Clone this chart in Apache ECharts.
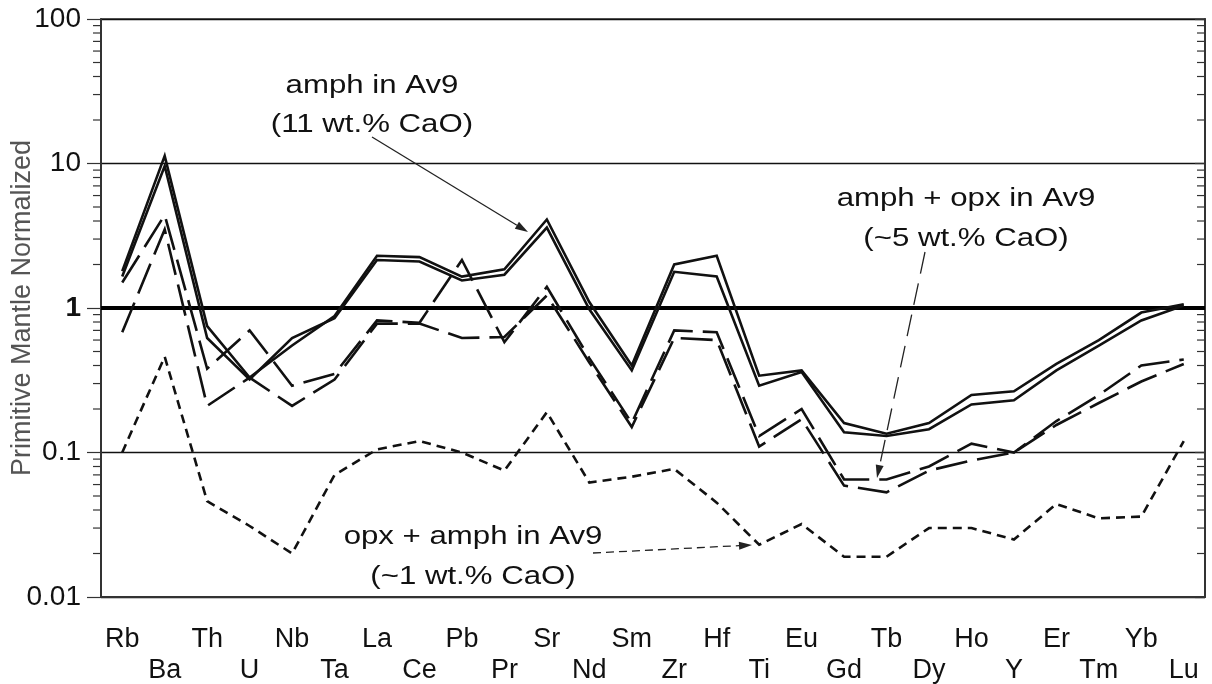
<!DOCTYPE html>
<html>
<head>
<meta charset="utf-8">
<script src="https://cdn.jsdelivr.net/npm/echarts@6/dist/echarts.min.js"></script>
<style>
html,body{margin:0;padding:0;background:#fff;}
#chart{width:1212px;height:684px;}
</style>
</head>
<body>
<div id="chart"></div>
<script>
// ---- data ----
const categories = ['Rb','Ba','Th','U','Nb','Ta','La','Ce','Pb','Pr','Sr','Nd','Sm','Zr','Hf','Ti','Eu','Gd','Tb','Dy','Ho','Y','Er','Tm','Yb','Lu'];
// amph in Av9 (11 wt.% CaO) - two solid lines
const amphUpper = [1.8, 11.3, 0.75, 0.33, 0.55, 0.88, 2.3, 2.25, 1.65, 1.85, 4.1, 1.1, 0.4, 2.0, 2.3, 0.34, 0.37, 0.16, 0.135, 0.16, 0.25, 0.265, 0.41, 0.6, 0.93, 1.06];
const amphLower = [1.65, 9.6, 0.62, 0.32, 0.62, 0.85, 2.15, 2.1, 1.55, 1.7, 3.6, 0.98, 0.37, 1.78, 1.65, 0.29, 0.36, 0.138, 0.13, 0.145, 0.215, 0.23, 0.37, 0.55, 0.82, 1.04];
// amph + opx in Av9 (~5 wt.% CaO) - two long-dashed lines
const amphOpxUpper = [1.5, 4.4, 0.38, 0.7, 0.29, 0.35, 0.82, 0.79, 2.15, 0.58, 1.4, 0.45, 0.16, 0.7, 0.68, 0.13, 0.2, 0.065, 0.065, 0.08, 0.115, 0.1, 0.165, 0.25, 0.4, 0.44];
const amphOpxLower = [0.68, 3.5, 0.21, 0.33, 0.21, 0.32, 0.78, 0.78, 0.62, 0.63, 1.22, 0.42, 0.15, 0.62, 0.6, 0.11, 0.17, 0.059, 0.053, 0.075, 0.088, 0.1, 0.155, 0.22, 0.31, 0.41];
// opx + amph in Av9 (~1 wt.% CaO) - short-dashed line
const opxAmph = [0.1, 0.46, 0.046, 0.031, 0.02, 0.07, 0.105, 0.12, 0.1, 0.075, 0.19, 0.062, 0.068, 0.077, 0.045, 0.023, 0.032, 0.019, 0.019, 0.03, 0.03, 0.025, 0.044, 0.035, 0.036, 0.12];
const yTickLabels = ['0.01', '0.1', '1', '10', '100'];
const decades = [0.01, 0.1, 1, 10];
const minorMultipliers = [2, 3, 4, 5, 6, 7, 8, 9];

// ---- chart ----
const FONT = '"Liberation Sans", Arial, Helvetica, sans-serif';
const INK = '#111';
const minorTicks = [];
decades.forEach(d => minorMultipliers.forEach(m => minorTicks.push([0, +(d * m).toPrecision(3)])));

function lineSeries(name, data, type) {
  return {
    name: name, type: 'line', data: data, symbol: 'none', silent: true,
    lineStyle: { color: INK, width: 2.6, type: type, join: 'miter', miterLimit: 10 },
    z: 5
  };
}

function arrow(x1, y1, x2, y2, dash) {
  const a = Math.atan2(y2 - y1, x2 - x1);
  const L = 13, W = 4;
  const bx = x2 - L * Math.cos(a), by = y2 - L * Math.sin(a);
  return [
    { type: 'line', silent: true, shape: { x1: x1, y1: y1, x2: bx, y2: by },
      style: { stroke: '#222', lineWidth: 1.3, lineDash: dash || null } , z: 20},
    { type: 'polygon', silent: true, shape: { points: [[x2, y2], [bx - W * Math.sin(a), by + W * Math.cos(a)], [bx + W * Math.sin(a), by - W * Math.cos(a)]] },
      style: { fill: '#222' }, z: 20 }
  ];
}
function note(text, x, y) {
  return { type: 'text', x: x, y: y, scaleX: 1.2, silent: true, z: 20,
    style: { text: text, fontSize: 26, fontFamily: FONT, fill: INK, align: 'center', verticalAlign: 'middle' } };
}

const chart = echarts.init(document.getElementById('chart'));
const option = {
  backgroundColor: '#fff',
  animation: false,
  textStyle: { fontFamily: FONT },
  grid: { left: 101, right: 7, top: 19, bottom: 87, outerBoundsMode: 'none', containLabel: false,
    show: true, borderColor: '#333', borderWidth: 1.5, backgroundColor: 'transparent' },
  xAxis: {
    type: 'category', data: categories, boundaryGap: true,
    axisLine: { lineStyle: { color: '#333', width: 2 } },
    axisTick: { alignWithLabel: true, length: 16, lineStyle: { color: '#333', width: 1.2 } },
    axisLabel: { interval: 0, margin: 27, fontSize: 27, lineHeight: 31, color: INK, fontFamily: FONT,
      formatter: (v, i) => (i % 2 ? '\n' + v : v) },
    splitLine: { show: false }
  },
  yAxis: [{
    type: 'log', logBase: 10, min: 0.01, max: 100,
    axisLine: { show: true, lineStyle: { color: '#333', width: 2 } },
    axisTick: { show: true, length: 14, lineStyle: { color: '#333', width: 1.2 } },
    axisLabel: { margin: 20, fontSize: 28, color: INK, fontFamily: FONT,
      formatter: v => {
        const idx = Math.round(Math.log10(v)) + 2;
        const s = yTickLabels[idx];
        return s === '1' ? '{b|' + s + '}' : s;
      },
      rich: { b: { fontSize: 28, fontWeight: 'bold', color: INK, fontFamily: FONT } } },
    splitLine: { show: true, lineStyle: { color: INK, width: 1.3 } },
    name: 'Primitive Mantle Normalized', nameLocation: 'middle', nameGap: 65, nameMoveOverlap: false,
    nameTextStyle: { fontSize: 27, color: '#555', fontFamily: FONT }
  }, {
    type: 'log', logBase: 10, min: 0.01, max: 100, position: 'right',
    axisLine: { show: true, lineStyle: { color: '#333', width: 2 } },
    axisTick: { show: true, inside: true, length: 10, lineStyle: { color: '#333', width: 1.2 } },
    axisLabel: { show: false }, splitLine: { show: false }
  }],
  series: [
    Object.assign(lineSeries('amph in Av9 (a)', amphUpper, 'solid'), {
      markLine: { silent: true, symbol: 'none', label: { show: false },
        lineStyle: { color: '#000', width: 4, type: 'solid' }, data: [{ yAxis: 1 }] }
    }),
    lineSeries('amph in Av9 (b)', amphLower, 'solid'),
    lineSeries('amph + opx in Av9 (a)', amphOpxUpper, [32, 10]),
    lineSeries('amph + opx in Av9 (b)', amphOpxLower, [32, 10]),
    lineSeries('opx + amph in Av9', opxAmph, [9, 6]),
    {
      type: 'custom', silent: true, clip: false, data: minorTicks, encode: { x: 0, y: 1 },
      renderItem: function (params, api) {
        const y = api.coord([0, api.value(1)])[1];
        const cs = params.coordSys;
        const st = { stroke: '#333', lineWidth: 1.2 };
        return { type: 'group', children: [
          { type: 'line', shape: { x1: cs.x - 8, y1: y, x2: cs.x, y2: y }, style: st },
          { type: 'line', shape: { x1: cs.x + cs.width - 8, y1: y, x2: cs.x + cs.width, y2: y }, style: st }
        ] };
      }
    }
  ],
  graphic: [].concat(
    [note('amph in Av9', 372, 86), note('(11 wt.% CaO)', 372, 125)],
    arrow(372, 137, 528, 232),
    [note('amph + opx in Av9', 966, 199), note('(~5 wt.% CaO)', 966, 239)],
    arrow(925, 252, 877, 478, [22, 10]),
    [note('opx + amph in Av9', 473, 537), note('(~1 wt.% CaO)', 473, 577)],
    arrow(593, 553, 752, 545, [8, 5])
  )
};
chart.setOption(option);
</script>
</body>
</html>
